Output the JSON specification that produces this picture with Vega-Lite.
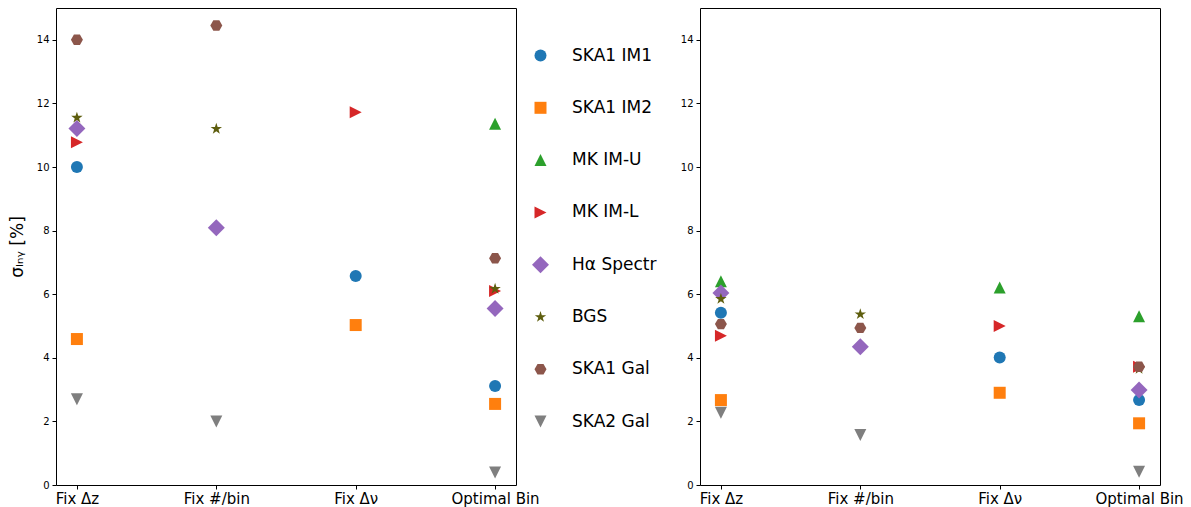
{
  "$schema": "https://vega.github.io/schema/vega-lite/v6.json",
  "padding": {"left": 7, "top": 7, "right": 20, "bottom": 5},
  "background": "white",
  "config": {
    "font": "DejaVu Sans",
    "view": {"stroke": "#000", "strokeWidth": 1},
    "axis": {"domain": false, "grid": false, "tickColor": "#000", "tickSize": 4, "tickWidth": 1, "labelColor": "#000", "titleColor": "#000", "titleFontWeight": "normal"},
    "legend": {"titleColor": "#000", "labelColor": "#000"}
  },
  "datasets": {
    "left": [
      {"method": "Fix Δz", "series": "SKA1 IM1", "value": 10.0},
      {"method": "Fix Δz", "series": "SKA1 IM2", "value": 4.59},
      {"method": "Fix Δz", "series": "MK IM-L", "value": 10.78},
      {"method": "Fix Δz", "series": "Hα Spectr", "value": 11.21},
      {"method": "Fix Δz", "series": "BGS", "value": 11.55},
      {"method": "Fix Δz", "series": "SKA1 Gal", "value": 14.0},
      {"method": "Fix Δz", "series": "SKA2 Gal", "value": 2.7},
      {"method": "Fix #/bin", "series": "Hα Spectr", "value": 8.09},
      {"method": "Fix #/bin", "series": "BGS", "value": 11.2},
      {"method": "Fix #/bin", "series": "SKA1 Gal", "value": 14.45},
      {"method": "Fix #/bin", "series": "SKA2 Gal", "value": 2.0},
      {"method": "Fix Δν", "series": "SKA1 IM1", "value": 6.57},
      {"method": "Fix Δν", "series": "SKA1 IM2", "value": 5.03},
      {"method": "Fix Δν", "series": "MK IM-L", "value": 11.72},
      {"method": "Optimal Bin", "series": "SKA1 IM1", "value": 3.11},
      {"method": "Optimal Bin", "series": "SKA1 IM2", "value": 2.55},
      {"method": "Optimal Bin", "series": "MK IM-U", "value": 11.36},
      {"method": "Optimal Bin", "series": "MK IM-L", "value": 6.1},
      {"method": "Optimal Bin", "series": "Hα Spectr", "value": 5.55},
      {"method": "Optimal Bin", "series": "BGS", "value": 6.17},
      {"method": "Optimal Bin", "series": "SKA1 Gal", "value": 7.13},
      {"method": "Optimal Bin", "series": "SKA2 Gal", "value": 0.39}
    ],
    "right": [
      {"method": "Fix Δz", "series": "SKA1 IM1", "value": 5.42},
      {"method": "Fix Δz", "series": "SKA1 IM2", "value": 2.67},
      {"method": "Fix Δz", "series": "MK IM-U", "value": 6.41},
      {"method": "Fix Δz", "series": "MK IM-L", "value": 4.69},
      {"method": "Fix Δz", "series": "Hα Spectr", "value": 6.04},
      {"method": "Fix Δz", "series": "BGS", "value": 5.85},
      {"method": "Fix Δz", "series": "SKA1 Gal", "value": 5.06},
      {"method": "Fix Δz", "series": "SKA2 Gal", "value": 2.27},
      {"method": "Fix #/bin", "series": "Hα Spectr", "value": 4.35},
      {"method": "Fix #/bin", "series": "BGS", "value": 5.37},
      {"method": "Fix #/bin", "series": "SKA1 Gal", "value": 4.94},
      {"method": "Fix #/bin", "series": "SKA2 Gal", "value": 1.57},
      {"method": "Fix Δν", "series": "SKA1 IM1", "value": 4.01},
      {"method": "Fix Δν", "series": "SKA1 IM2", "value": 2.9},
      {"method": "Fix Δν", "series": "MK IM-U", "value": 6.21},
      {"method": "Fix Δν", "series": "MK IM-L", "value": 5.0},
      {"method": "Optimal Bin", "series": "SKA1 IM1", "value": 2.67},
      {"method": "Optimal Bin", "series": "SKA1 IM2", "value": 1.94},
      {"method": "Optimal Bin", "series": "MK IM-U", "value": 5.31},
      {"method": "Optimal Bin", "series": "MK IM-L", "value": 3.72},
      {"method": "Optimal Bin", "series": "Hα Spectr", "value": 2.99},
      {"method": "Optimal Bin", "series": "BGS", "value": 3.65},
      {"method": "Optimal Bin", "series": "SKA1 Gal", "value": 3.72},
      {"method": "Optimal Bin", "series": "SKA2 Gal", "value": 0.42}
    ]
  },
  "spacing": 184,
  "bounds": "flush",
  "resolve": {"legend": {"color": "independent", "shape": "independent"}},
  "hconcat": [
    {
      "width": 460,
      "height": 477,
      "data": {"name": "left"},
      "mark": {"type": "point", "filled": true, "opacity": 1, "size": 144, "strokeWidth": 0},
      "encoding": {
        "x": {"field": "method", "type": "ordinal", "sort": null,
              "scale": {"type": "point", "padding": 0.15, "domain": ["Fix Δz", "Fix #/bin", "Fix Δν", "Optimal Bin"]},
              "axis": {"title": null, "labelAngle": 0, "labelFontSize": 15, "labelPadding": 2}},
        "y": {"field": "value", "type": "quantitative",
              "scale": {"domain": [0, 15], "nice": false, "zero": false},
              "axis": {"title": "σₗₙᵧ [%]", "titleFontSize": 17, "values": [0, 2, 4, 6, 8, 10, 12, 14], "labelFontSize": 10, "labelPadding": 3, "titlePadding": 10}},
        "color": {"field": "series", "type": "nominal",
                  "scale": {"domain": ["SKA1 IM1", "SKA1 IM2", "MK IM-U", "MK IM-L", "Hα Spectr", "BGS", "SKA1 Gal", "SKA2 Gal"],
                            "range": ["#1f77b4", "#ff7f0e", "#2ca02c", "#d62728", "#9467bd", "#5e5e0e", "#8c564b", "#7f7f7f"]},
                  "legend": {"orient": "none", "legendX": 476, "legendY": 39, "title": null, "labelFontSize": 17, "symbolSize": 144, "rowPadding": 34.3, "labelOffset": 23, "symbolStrokeWidth": 0, "padding": 0}},
        "shape": {"field": "series", "type": "nominal",
                  "scale": {"domain": ["SKA1 IM1", "SKA1 IM2", "MK IM-U", "MK IM-L", "Hα Spectr", "BGS", "SKA1 Gal", "SKA2 Gal"],
                            "range": ["circle", "square", "M0,-1L1,1L-1,1Z", "M1,0L-1,1L-1,-1Z", "M0,-1.414L1.414,0L0,1.414L-1.414,0Z", "M0,-1L0.2245,-0.309L0.9511,-0.309L0.3633,0.118L0.5878,0.809L0,0.382L-0.5878,0.809L-0.3633,0.118L-0.9511,-0.309L-0.2245,-0.309Z", "M1,0L0.5,0.866L-0.5,0.866L-1,0L-0.5,-0.866L0.5,-0.866Z", "M0,1L1,-1L-1,-1Z"]},
                  "legend": {"orient": "none", "legendX": 476, "legendY": 39, "title": null, "labelFontSize": 17, "symbolSize": 144, "rowPadding": 34.3, "labelOffset": 23, "symbolStrokeWidth": 0, "padding": 0}}
      }
    },
    {
      "width": 460,
      "height": 477,
      "data": {"name": "right"},
      "mark": {"type": "point", "filled": true, "opacity": 1, "size": 144, "strokeWidth": 0},
      "encoding": {
        "x": {"field": "method", "type": "ordinal", "sort": null,
              "scale": {"type": "point", "padding": 0.15, "domain": ["Fix Δz", "Fix #/bin", "Fix Δν", "Optimal Bin"]},
              "axis": {"title": null, "labelAngle": 0, "labelFontSize": 15, "labelPadding": 2}},
        "y": {"field": "value", "type": "quantitative",
              "scale": {"domain": [0, 15], "nice": false, "zero": false},
              "axis": {"title": null, "values": [0, 2, 4, 6, 8, 10, 12, 14], "labelFontSize": 10, "labelPadding": 3}},
        "color": {"field": "series", "type": "nominal",
                  "scale": {"domain": ["SKA1 IM1", "SKA1 IM2", "MK IM-U", "MK IM-L", "Hα Spectr", "BGS", "SKA1 Gal", "SKA2 Gal"],
                            "range": ["#1f77b4", "#ff7f0e", "#2ca02c", "#d62728", "#9467bd", "#5e5e0e", "#8c564b", "#7f7f7f"]},
                  "legend": null},
        "shape": {"field": "series", "type": "nominal",
                  "scale": {"domain": ["SKA1 IM1", "SKA1 IM2", "MK IM-U", "MK IM-L", "Hα Spectr", "BGS", "SKA1 Gal", "SKA2 Gal"],
                            "range": ["circle", "square", "M0,-1L1,1L-1,1Z", "M1,0L-1,1L-1,-1Z", "M0,-1.414L1.414,0L0,1.414L-1.414,0Z", "M0,-1L0.2245,-0.309L0.9511,-0.309L0.3633,0.118L0.5878,0.809L0,0.382L-0.5878,0.809L-0.3633,0.118L-0.9511,-0.309L-0.2245,-0.309Z", "M1,0L0.5,0.866L-0.5,0.866L-1,0L-0.5,-0.866L0.5,-0.866Z", "M0,1L1,-1L-1,-1Z"]},
                  "legend": null}
      }
    }
  ]
}
